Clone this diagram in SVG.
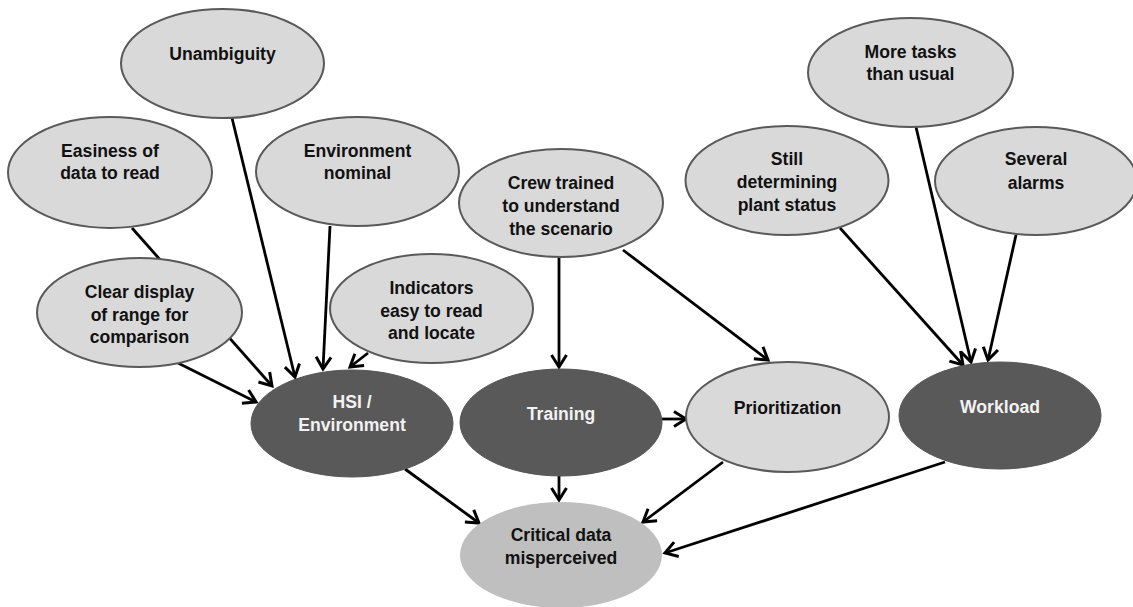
<svg xmlns="http://www.w3.org/2000/svg" width="1133" height="607" viewBox="0 0 1133 607">
  <defs>
    <marker id="arrow" markerUnits="userSpaceOnUse" markerWidth="20" markerHeight="20" refX="14" refY="10" orient="auto">
      <path d="M2,2.5 L14,10 L2,17.5" fill="none" stroke="#000" stroke-width="3" stroke-linejoin="miter"/>
    </marker>
    <style>
      .edge { stroke: #000; stroke-width: 2.8; fill: none; marker-end: url(#arrow); }
      .light { fill: #d9d9d9; stroke: #595959; stroke-width: 2; }
      .dark { fill: #595959; stroke: #555; stroke-width: 1; }
      .outcome { fill: #bfbfbf; stroke: none; }
      text { font-family: "Liberation Sans", Arial, sans-serif; font-weight: bold; font-size: 17.6px; text-anchor: middle; }
      .lt { fill: #111; }
      .dt { fill: #f2f2f2; }
    </style>
  </defs>
  <rect width="1133" height="607" fill="#fff"/>

  <!-- connectors (drawn first so that nodes sit on top) -->
  <g id="connectors">
    <line class="edge" x1="132" y1="228" x2="272" y2="386"/>
    <line class="edge" x1="178" y1="363" x2="256" y2="402"/>
    <line class="edge" x1="232" y1="118" x2="295" y2="377"/>
    <line class="edge" x1="330" y1="226" x2="323" y2="369"/>
    <line class="edge" x1="368" y1="353" x2="350" y2="367"/>
    <line class="edge" x1="559" y1="258" x2="559" y2="367"/>
    <line class="edge" x1="623" y1="250" x2="768" y2="360"/>
    <line class="edge" x1="662" y1="419" x2="686" y2="419"/>
    <line class="edge" x1="559" y1="476" x2="559" y2="500"/>
    <line class="edge" x1="405" y1="469" x2="479" y2="523"/>
    <line class="edge" x1="723" y1="462" x2="643" y2="522"/>
    <line class="edge" x1="945" y1="462" x2="665" y2="553"/>
    <line class="edge" x1="840" y1="228" x2="963" y2="365"/>
    <line class="edge" x1="916" y1="127" x2="971" y2="362"/>
    <line class="edge" x1="1016" y1="235" x2="988" y2="360"/>
  </g>

  <!-- factor nodes -->
  <g id="unambiguity">
    <ellipse class="light" cx="222.5" cy="63.5" rx="101.5" ry="54.5"/>
    <text class="lt" x="222.5" y="60">Unambiguity</text>
  </g>
  <g id="easiness">
    <ellipse class="light" cx="110" cy="172.5" rx="102" ry="55.5"/>
    <text class="lt" x="110" y="157">Easiness of</text>
    <text class="lt" x="110" y="179">data to read</text>
  </g>
  <g id="environment-nominal">
    <ellipse class="light" cx="357.5" cy="171.5" rx="101.5" ry="54.5"/>
    <text class="lt" x="357.5" y="157">Environment</text>
    <text class="lt" x="357.5" y="179">nominal</text>
  </g>
  <g id="clear-display">
    <ellipse class="light" cx="139.5" cy="312.5" rx="102.5" ry="54.5"/>
    <text class="lt" x="139.5" y="298">Clear display</text>
    <text class="lt" x="139.5" y="320.5">of range for</text>
    <text class="lt" x="139.5" y="343">comparison</text>
  </g>
  <g id="indicators">
    <ellipse class="light" cx="431.5" cy="308.5" rx="101.5" ry="54.5"/>
    <text class="lt" x="431.5" y="294">Indicators</text>
    <text class="lt" x="431.5" y="317">easy to read</text>
    <text class="lt" x="431.5" y="339">and locate</text>
  </g>
  <g id="crew-trained">
    <ellipse class="light" cx="561" cy="203" rx="102" ry="54"/>
    <text class="lt" x="561" y="189">Crew trained</text>
    <text class="lt" x="561" y="212">to understand</text>
    <text class="lt" x="561" y="235">the scenario</text>
  </g>
  <g id="still-determining">
    <ellipse class="light" cx="787" cy="180.5" rx="101.5" ry="54.5"/>
    <text class="lt" x="787" y="165">Still</text>
    <text class="lt" x="787" y="188">determining</text>
    <text class="lt" x="787" y="211">plant status</text>
  </g>
  <g id="more-tasks">
    <ellipse class="light" cx="910.5" cy="72.5" rx="102.5" ry="54.5"/>
    <text class="lt" x="910.5" y="58">More tasks</text>
    <text class="lt" x="910.5" y="80">than usual</text>
  </g>
  <g id="several-alarms">
    <ellipse class="light" cx="1036" cy="181" rx="101" ry="54"/>
    <text class="lt" x="1036" y="165">Several</text>
    <text class="lt" x="1036" y="189">alarms</text>
  </g>

  <!-- intermediate nodes -->
  <g id="hsi-environment">
    <ellipse class="dark" cx="352" cy="423.5" rx="101" ry="53.5"/>
    <text class="dt" x="352" y="408">HSI /</text>
    <text class="dt" x="352" y="430.5">Environment</text>
  </g>
  <g id="training">
    <ellipse class="dark" cx="561" cy="422.5" rx="101" ry="53.5"/>
    <text class="dt" x="561" y="420">Training</text>
  </g>
  <g id="prioritization">
    <ellipse class="light" cx="787.5" cy="417" rx="101.5" ry="55"/>
    <text class="lt" x="787.5" y="414">Prioritization</text>
  </g>
  <g id="workload">
    <ellipse class="dark" cx="1000" cy="415.5" rx="101" ry="53.5"/>
    <text class="dt" x="1000" y="413">Workload</text>
  </g>

  <!-- outcome node -->
  <g id="critical-data">
    <ellipse class="outcome" cx="561" cy="555" rx="101" ry="53"/>
    <text class="lt" x="561" y="541">Critical data</text>
    <text class="lt" x="561" y="564">misperceived</text>
  </g>
</svg>
